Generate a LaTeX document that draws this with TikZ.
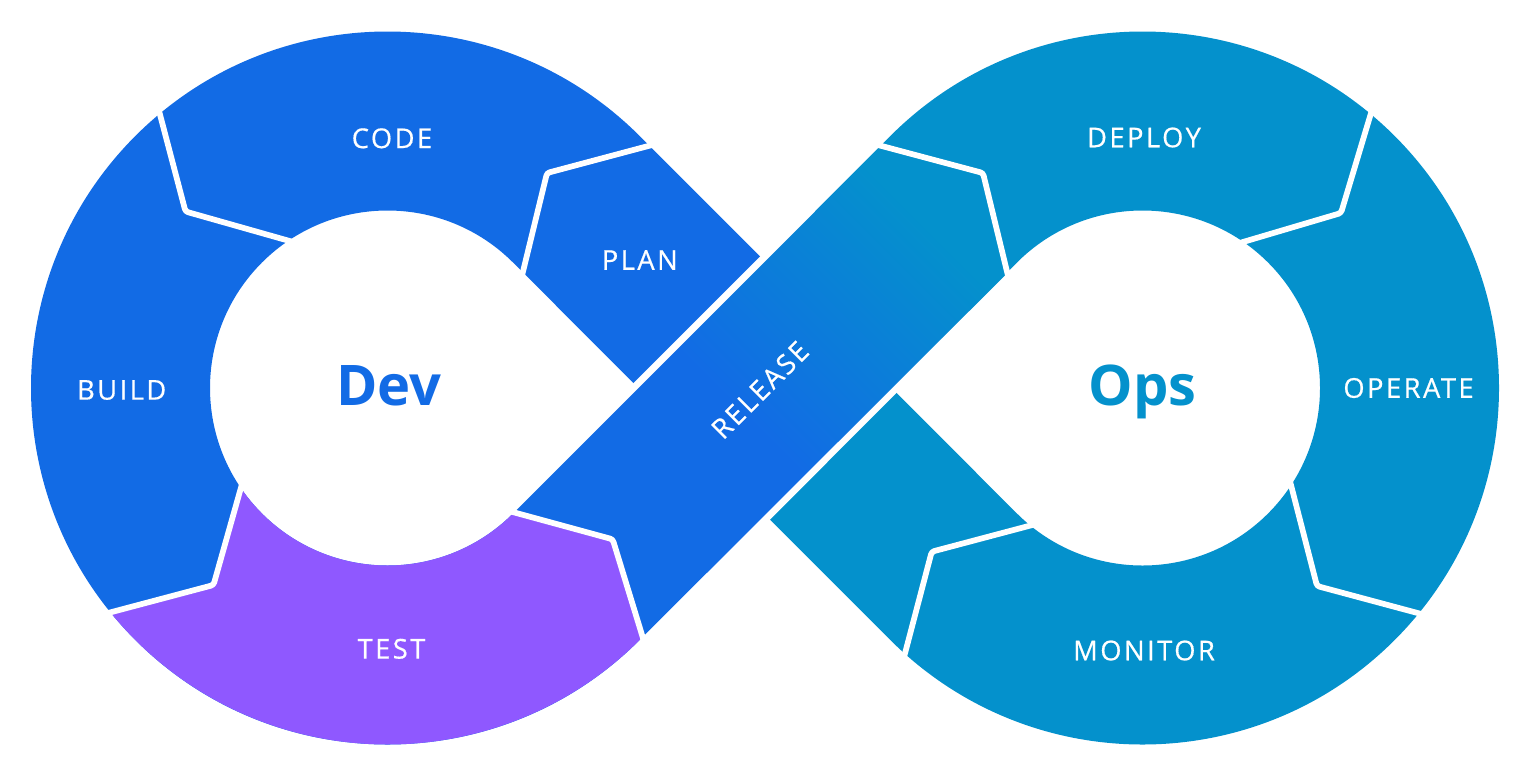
\documentclass[tikz,border=0pt]{standalone}
\usepackage{fontspec}
\setmainfont{Open Sans}
\newfontfamily\stagefont[LetterSpace=9, FakeBold=0.5]{Open Sans}
\usetikzlibrary{calc}

\definecolor{devblue}{RGB}{18,107,229}
\definecolor{opsteal}{RGB}{4,145,204}
\definecolor{testviolet}{RGB}{143,88,255}

\def\outr{356.5}
\def\innr{177.5}

\pgfdeclarehorizontalshading{releaseshade}{100bp}{color(0bp)=(devblue); color(47bp)=(devblue); color(74bp)=(opsteal); color(100bp)=(opsteal)}

\tikzset{
  stage/.style={text=white, font=\stagefont\fontsize{20.5}{24}\selectfont},
  loopname/.style={font=\bfseries\fontsize{42}{50}\selectfont, anchor=base},
  divider/.style={draw=white, line width=4.3pt, line join=round, rounded corners=2pt},
  crossgap/.style={draw=white, line width=10.5pt},
}

\begin{document}
\begin{tikzpicture}[x=0.75pt,y=0.75pt,yscale=-1,xscale=1]
    \useasboundingbox (0,0) rectangle (1530,776);

    % centres of the two loops
    \coordinate (c1) at (387.5,388);
    \coordinate (c2) at (1142.5,388);

    % where the straight bands leave the rings
    \coordinate (l-up-o) at ($(c1)+(-45:\outr)$);
    \coordinate (l-up-i) at ($(c1)+(-45:\innr)$);
    \coordinate (l-dn-o) at ($(c1)+(45:\outr)$);
    \coordinate (l-dn-i) at ($(c1)+(45:\innr)$);
    \coordinate (r-up-o) at ($(c2)+(-135:\outr)$);
    \coordinate (r-up-i) at ($(c2)+(-135:\innr)$);
    \coordinate (r-dn-o) at ($(c2)+(135:\outr)$);
    \coordinate (r-dn-i) at ($(c2)+(135:\innr)$);
    \coordinate (a-top) at ($(l-up-o)!0.5!(r-dn-i)$);
    \coordinate (a-bot) at ($(l-up-i)!0.5!(r-dn-o)$);
    \coordinate (b-top) at ($(l-dn-i)!0.8!(r-up-o)$);
    \coordinate (b-bot) at ($(l-dn-o)!0.8!(r-up-i)$);

    % dividers: outer end, tip, inner end
    \coordinate (plancode-o) at ($(c1)+(-42.8:\outr)$);
    \coordinate (plancode-t) at (547,173);
    \coordinate (plancode-i) at ($(c1)+(-40.4:\innr)$);
    \coordinate (codebuild-o) at ($(c1)+(-129.7:\outr)$);
    \coordinate (codebuild-t) at (185.5,211.5);
    \coordinate (codebuild-i) at ($(c1)+(-123.9:\innr)$);
    \coordinate (buildtest-o) at ($(c1)+(141:\outr)$);
    \coordinate (buildtest-t) at (213.5,585);
    \coordinate (buildtest-i) at ($(c1)+(145.7:\innr)$);
    \coordinate (testrel-o) at ($(c1)+(44.3:\outr)$);
    \coordinate (testrel-t) at (612.7,539.3);
    \coordinate (testrel-i) at ($(c1)+(44.5:\innr)$);
    \coordinate (reldeploy-o) at ($(c2)+(-137.2:\outr)$);
    \coordinate (reldeploy-t) at (983,173);
    \coordinate (reldeploy-i) at ($(c2)+(-139.6:\innr)$);
    \coordinate (deployop-o) at ($(c2)+(-50.2:\outr)$);
    \coordinate (deployop-t) at (1341,213);
    \coordinate (deployop-i) at ($(c2)+(-55.4:\innr)$);
    \coordinate (opmon-o) at ($(c2)+(39.2:\outr)$);
    \coordinate (opmon-t) at (1317,586);
    \coordinate (opmon-i) at ($(c2)+(33.2:\innr)$);
    \coordinate (monplan-o) at ($(c2)+(131.8:\outr)$);
    \coordinate (monplan-t) at (931.7,551.7);
    \coordinate (monplan-i) at ($(c2)+(129.2:\innr)$);

    % Dev ring with its half of the band
    \fill[devblue] (l-up-o) arc[start angle=-45, end angle=-315, radius=\outr] -- (l-dn-i) arc[start angle=45, end angle=315, radius=\innr] -- cycle
        (l-up-o) -- (a-top) -- (a-bot) -- (l-up-i) -- cycle;
    % Ops ring with its half of the band
    \fill[opsteal] (r-up-o) arc[start angle=-135, end angle=135, radius=\outr] -- (r-dn-i) arc[start angle=135, end angle=-135, radius=\innr] -- cycle
        (a-top) -- (r-dn-i) -- (r-dn-o) -- (a-bot) -- cycle
        (b-top) -- (r-up-o) -- (r-up-i) -- (b-bot) -- cycle;

    % white edges of the release band
    \draw[crossgap] ($(l-dn-i)!0.22!(r-up-o)$) -- ($(l-dn-i)!0.78!(r-up-o)$);
    \draw[crossgap] ($(l-dn-o)!0.22!(r-up-i)$) -- ($(l-dn-o)!0.78!(r-up-i)$);

    % Release band
    \shade[shading=releaseshade, shading angle=45] (testrel-i) -- (reldeploy-o) -- (reldeploy-t) -- (reldeploy-i) -- (testrel-o) -- cycle;

    % Test segment
    \fill[testviolet] (buildtest-o) -- (buildtest-t) -- (buildtest-i) arc[start angle=145.7, end angle=44.5, radius=\innr] -- (testrel-t) -- (testrel-o) arc[start angle=44.3, end angle=141, radius=\outr] -- cycle;

    \foreach \d in {plancode,codebuild,buildtest,testrel,reldeploy,deployop,opmon,monplan}
        \draw[divider] ($(\d-t)!1.15!(\d-o)$) -- (\d-t) -- ($(\d-t)!1.15!(\d-i)$);

    % Text Node
    \node[stage] (code) at (392,138.3) {CODE};
    \node[stage] (plan) at (639.8,260) {PLAN};
    \node[stage] (build) at (121.7,390) {BUILD};
    \node[stage] (test) at (391.5,648.8) {TEST};
    \node[stage, rotate=45] (release) at (760,390) {RELEASE};
    \node[stage] (deploy) at (1144,137.5) {DEPLOY};
    \node[stage] (operate) at (1408.5,388) {OPERATE};
    \node[stage] (monitor) at (1144,650.5) {MONITOR};
    \node[loopname, text=devblue] (dev) at (388.8,405.5) {Dev};
    \node[loopname, text=opsteal] (ops) at (1142.5,405.5) {Ops};
\end{tikzpicture}
\end{document}
